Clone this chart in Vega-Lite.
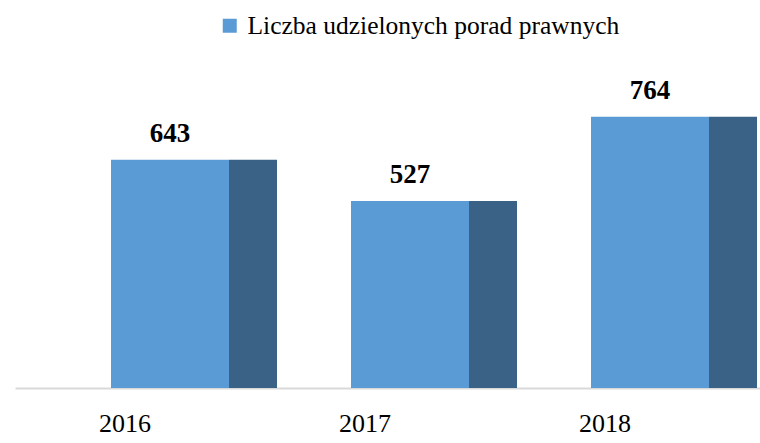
{
  "$schema": "https://vega.github.io/schema/vega-lite/v6.json",
  "width": 790,
  "height": 328,
  "autosize": "none",
  "padding": {"left": 15, "top": 60, "right": 0, "bottom": 55},
  "background": "white",
  "config": {"view": {"stroke": null}, "font": "Liberation Serif"},
  "data": {"values": [
    {"year": "2016", "value": 643, "series": "Liczba udzielonych porad prawnych"},
    {"year": "2017", "value": 527, "series": "Liczba udzielonych porad prawnych"},
    {"year": "2018", "value": 764, "series": "Liczba udzielonych porad prawnych"}
  ]},
  "encoding": {
    "x": {"field": "year", "type": "nominal", "scale": {"paddingInner": 0, "paddingOuter": 0.1458},
      "axis": {"title": null, "labelAngle": 0, "ticks": false, "domainColor": "#d9d9d9", "domainWidth": 2,
        "labelFont": "Liberation Serif", "labelFontSize": 26, "labelColor": "black", "labelOffset": -45, "labelPadding": 22}},
    "y": {"field": "value", "type": "quantitative", "scale": {"domain": [0, 924]}, "axis": null}
  },
  "layer": [
    {"mark": {"type": "bar", "width": 48, "xOffset": 83, "color": "#3a6286"}},
    {"mark": {"type": "bar", "width": 118},
      "encoding": {"color": {"field": "series", "type": "nominal", "scale": {"range": ["#5b9bd5"]},
        "legend": {"title": null, "orient": "none", "legendX": 202, "legendY": -47, "symbolType": "square", "symbolSize": 196,
          "labelFont": "Liberation Serif", "labelFontSize": 25.5, "labelColor": "black", "labelLimit": 1000, "symbolStrokeWidth": 0, "labelOffset": 5}}}},
    {"mark": {"type": "text", "baseline": "bottom", "dy": -12, "font": "Liberation Serif", "fontSize": 27, "fontWeight": "bold", "color": "black"},
      "encoding": {"text": {"field": "value", "type": "quantitative"}}}
  ]
}
